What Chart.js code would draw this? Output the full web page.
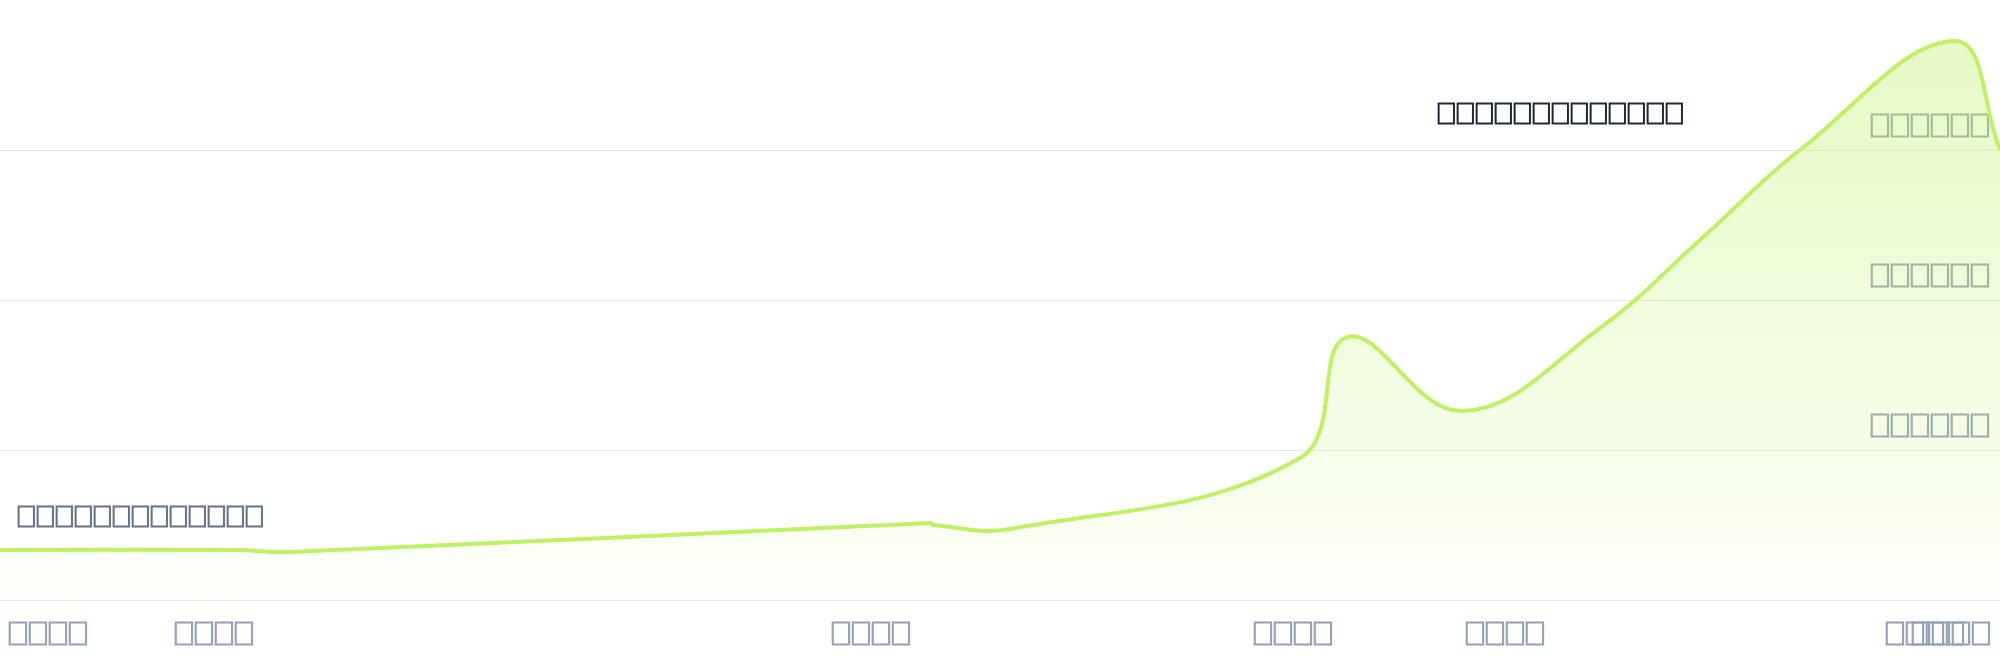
<!DOCTYPE html>
<html>
<head>
<meta charset="utf-8">
<script src="https://cdn.jsdelivr.net/npm/chart.js@4.4.1/dist/chart.umd.min.js"></script>
<style>
  html, body { margin: 0; padding: 0; background: #ffffff; }
  #wrap { width: 2000px; height: 660px; position: relative; }
</style>
</head>
<body>
<div id="wrap"><canvas id="chart"></canvas></div>
<script>
// ---- data (text kept exactly as it appears in the reference) ----
const xValues = [0, 23.7, 29, 93.1, 93.3, 101, 130, 134.7, 146.2, 160, 170, 180, 195.5, 200];
const yValues = [33.3, 33.3, 32, 51.3, 50, 47.3, 94.7, 175.3, 126, 181.3, 240, 300, 372.7, 300];

const xTickValues = [4.75, 21.4, 87.1, 129.3, 150.5, 192.5, 195.1];
const xTickLabels = ['⎕⎕⎕⎕', '⎕⎕⎕⎕', '⎕⎕⎕⎕', '⎕⎕⎕⎕', '⎕⎕⎕⎕', '⎕⎕⎕⎕', '⎕⎕⎕⎕'];

const yTickValues = [0, 100, 200, 300, 400];
const yTickLabels = [null, '⎕⎕⎕⎕⎕⎕', '⎕⎕⎕⎕⎕⎕', '⎕⎕⎕⎕⎕⎕', null];

const noteTexts = ['⎕⎕⎕⎕⎕⎕⎕⎕⎕⎕⎕⎕⎕', '⎕⎕⎕⎕⎕⎕⎕⎕⎕⎕⎕⎕⎕'];
const noteXValues = [156, 1.7];
const noteYValues = [322.7, 54];

// ---- presentation ----
const FONT = '"DejaVu Sans", sans-serif';
const noteStyle = [
  { color: '#1e293b', align: 'center' },
  { color: '#64748b', align: 'left' }
];

const notesPlugin = {
  id: 'notes',
  afterDatasetsDraw(chart) {
    const { ctx, scales } = chart;
    noteTexts.forEach((t, i) => {
      ctx.save();
      ctx.font = 'bold 31px ' + FONT;
      ctx.fillStyle = noteStyle[i].color;
      ctx.textAlign = noteStyle[i].align;
      ctx.textBaseline = 'middle';
      ctx.fillText(t, scales.x.getPixelForValue(noteXValues[i]), scales.y.getPixelForValue(noteYValues[i]));
      ctx.restore();
    });
  }
};

const points = xValues.map((x, i) => ({ x, y: yValues[i] }));

new Chart(document.getElementById('chart'), {
  type: 'line',
  data: {
    datasets: [{
      data: points,
      borderColor: '#bef264',
      borderWidth: 4,
      pointRadius: 0,
      pointHoverRadius: 0,
      tension: 0.4,
      fill: 'origin',
      backgroundColor(context) {
        const chart = context.chart;
        const a = chart.chartArea;
        if (!a) return 'rgba(190,242,100,0.2)';
        const g = chart.ctx.createLinearGradient(0, a.top, 0, a.bottom);
        g.addColorStop(0, 'rgba(190,242,100,0.40)');
        g.addColorStop(0.75, 'rgba(190,242,100,0.15)');
        g.addColorStop(1, 'rgba(190,242,100,0.03)');
        return g;
      }
    }]
  },
  options: {
    responsive: true,
    maintainAspectRatio: false,
    devicePixelRatio: 1,
    animation: false,
    events: [],
    layout: { padding: 0 },
    plugins: { legend: { display: false }, tooltip: { enabled: false } },
    scales: {
      x: {
        type: 'linear',
        min: 0,
        max: 200,
        grid: { display: false },
        border: { display: true, color: '#e2e8f0', width: 1 },
        afterBuildTicks(scale) { scale.ticks = xTickValues.map(v => ({ value: v })); },
        afterFit(scale) { scale.height = 60; scale.paddingLeft = 0; scale.paddingRight = 0; },
        ticks: {
          autoSkip: false,
          maxRotation: 0,
          minRotation: 0,
          padding: 9,
          color: '#94a3b8',
          font: { family: FONT, size: 33, weight: 'bold' },
          callback(value, index) { return xTickLabels[index]; }
        }
      },
      y: {
        position: 'right',
        min: 0,
        max: 400,
        afterBuildTicks(scale) { scale.ticks = yTickValues.map(v => ({ value: v })); },
        afterFit(scale) { scale.width = 0; scale.paddingTop = 0; scale.paddingBottom = 0; },
        grid: { color: '#e2e8f0', lineWidth: 1, drawTicks: false },
        border: { display: false },
        ticks: {
          mirror: true,
          padding: -10,
          labelOffset: -22,
          color: '#94a3b8',
          font: { family: FONT, size: 33, weight: 'bold' },
          callback(value, index) { return yTickLabels[index]; }
        }
      }
    }
  },
  plugins: [notesPlugin]
});
</script>
</body>
</html>
